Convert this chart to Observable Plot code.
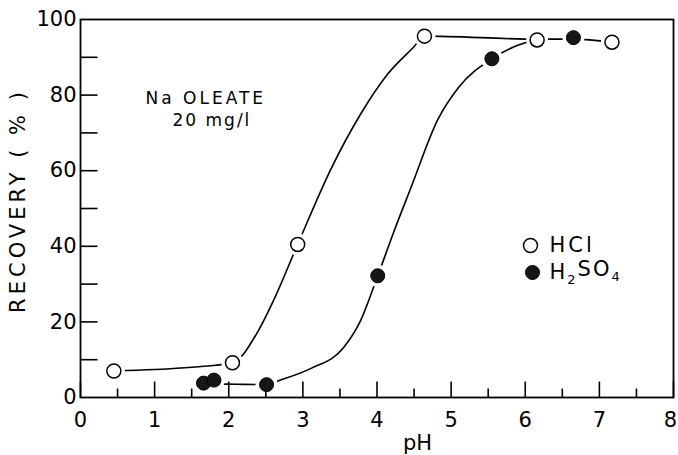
<!DOCTYPE html>
<html><head><meta charset="utf-8">
<script src="https://cdn.jsdelivr.net/npm/d3@7"></script>
<script src="https://cdn.jsdelivr.net/npm/@observablehq/plot@0.6"></script>
<style>body{margin:0;background:#fff} svg{display:block}</style>
</head><body><div id="chart"></div>
<script>
// measured points
const hclPH  = [0.45, 2.05, 2.93, 4.64, 6.16, 7.17];
const hclRec = [7.0, 9.2, 40.5, 95.6, 94.6, 94.0];
const h2so4PH  = [1.66, 1.80, 2.51, 4.01, 5.55, 6.65];
const h2so4Rec = [3.8, 4.6, 3.4, 32.2, 89.6, 95.2];

// hand-drawn curves
const hclCurvePH  = [0.45, 1.0, 1.5, 2.05, 2.4, 2.6, 2.93, 3.38, 3.78, 4.15, 4.49, 4.64, 6.16, 6.65, 7.17];
const hclCurveRec = [7.0, 7.4, 8.0, 9.2, 17.7, 25.5, 40.5, 60.5, 75.0, 85.7, 92.6, 95.6, 94.8, 94.8, 94.0];
const h2so4CurvePH  = [1.80, 2.1, 2.51, 2.68, 3.11, 3.55, 3.78, 4.01, 4.23, 4.46, 4.82, 5.1, 5.55, 5.85, 6.16];
const h2so4CurveRec = [3.6, 3.5, 3.4, 4.5, 7.7, 13.2, 20.4, 32.2, 44.0, 55.6, 73.5, 82.0, 89.6, 92.8, 94.8];

// ticks
const xMajor = [0, 1, 2, 3, 4, 5, 6, 7, 8];
const xMinor = [0.5, 1.5, 2.5, 3.5, 4.5, 5.5, 6.5, 7.5];
const yTickMarks = [10, 20, 30, 40, 50, 60, 70, 80, 90];
const yLabels = [0, 20, 40, 60, 80, 100];

const seriesNames = ["HCl", "H2SO4"];
const xTitle = "pH";
const yTitle = "RECOVERY ( % )";
const note1 = "Na OLEATE";
const note2 = "20 mg/l";

const zip = (xs, ys) => xs.map((x, i) => ({x, y: ys[i]}));
const hcl = zip(hclPH, hclRec);
const h2so4 = zip(h2so4PH, h2so4Rec);
const hclCurve = zip(hclCurvePH, hclCurveRec);
const h2so4Curve = zip(h2so4CurvePH, h2so4CurveRec);

const W = 678, H = 455, mL = 80, mR = 5, mT = 19, mB = 58;
const plotW = W - mL - mR, plotH = H - mT - mB;
const xDom = [0, 8], yDom = [0, 100];
// inward tick lengths (px) expressed in data units
const majLen = 16 / plotH * (yDom[1] - yDom[0]);
const minLen = 9 / plotH * (yDom[1] - yDom[0]);
const yLen = 17 / plotW * (xDom[1] - xDom[0]);
const xTickSegs = [
  ...xMajor.flatMap((v, i) => [{x: v, y: yDom[0], k: "M" + i}, {x: v, y: yDom[0] + majLen, k: "M" + i}]),
  ...xMinor.flatMap((v, i) => [{x: v, y: yDom[0], k: "m" + i}, {x: v, y: yDom[0] + minLen, k: "m" + i}])
];
const yTickSegs = yTickMarks.flatMap((v, i) => [{x: xDom[0], y: v, k: "y" + i}, {x: xDom[0] + yLen, y: v, k: "y" + i}]);

const F = "DejaVu Sans";

const chart = Plot.plot({
  width: W, height: H,
  marginLeft: mL, marginRight: mR, marginTop: mT, marginBottom: mB,
  x: {domain: xDom, label: null},
  y: {domain: yDom, label: null},
  style: {fontFamily: F, background: "white", color: "black"},
  marks: [
    Plot.line(hclCurve, {x: "x", y: "y", curve: "monotone-x", stroke: "black", strokeWidth: 1.6}),
    Plot.line(h2so4Curve, {x: "x", y: "y", curve: "monotone-x", stroke: "black", strokeWidth: 1.6}),
    Plot.dot([...hcl, ...h2so4], {x: "x", y: "y", r: 11, fill: "white", stroke: "none"}),
    Plot.line(xTickSegs, {x: "x", y: "y", z: "k", stroke: "black", strokeWidth: 1.6, strokeLinecap: "butt"}),
    Plot.line(yTickSegs, {x: "x", y: "y", z: "k", stroke: "black", strokeWidth: 1.6, strokeLinecap: "butt"}),
    Plot.frame({stroke: "black", strokeWidth: 1.8}),
    Plot.axisX(xMajor, {tickSize: 0, tickPadding: 15, fontSize: 21, label: null}),
    Plot.axisY(yLabels, {tickSize: 0, tickPadding: 4, fontSize: 21, label: null}),
    Plot.dot(hcl, {x: "x", y: "y", r: 7, fill: "white", stroke: "black", strokeWidth: 1.5}),
    Plot.dot(h2so4, {x: "x", y: "y", r: 7, fill: "#161616", stroke: "black", strokeWidth: 1}),
    // legend
    Plot.dot([seriesNames[0]], {frameAnchor: "top-left", dx: 450, dy: 226, r: 7, fill: "white", stroke: "black", strokeWidth: 1.5}),
    Plot.dot([seriesNames[1]], {frameAnchor: "top-left", dx: 452, dy: 253, r: 7, fill: "#161616", stroke: "black", strokeWidth: 1}),
    Plot.text([seriesNames[0]], {text: d => d, frameAnchor: "top-left", dx: 469, dy: 226, textAnchor: "start", lineAnchor: "middle", fontSize: 21}),
    Plot.text([seriesNames[1]], {text: d => d, frameAnchor: "top-left", dx: 469, dy: 253, textAnchor: "start", lineAnchor: "middle", fontSize: 21}),
    // annotation
    Plot.text([note1], {text: d => d, frameAnchor: "top-left", dx: 65, dy: 79, textAnchor: "start", lineAnchor: "middle", fontSize: 17}),
    Plot.text([note2], {text: d => d, frameAnchor: "top-left", dx: 92, dy: 101, textAnchor: "start", lineAnchor: "middle", fontSize: 17}),
    // axis titles
    Plot.text([yTitle], {text: d => d, frameAnchor: "top-left", dx: -62, dy: 181, rotate: -90, textAnchor: "middle", lineAnchor: "middle", fontSize: 21}),
    Plot.text([xTitle], {text: d => d, frameAnchor: "top-left", dx: 337, dy: 424, textAnchor: "middle", lineAnchor: "middle", fontSize: 21})
  ]
});
document.getElementById("chart").appendChild(chart);

const svg = d3.select(chart);
const spacing = {"Na OLEATE": 3, "20 mg/l": 2, "RECOVERY ( % )": 4, "HCl": 3, "H2SO4": 2};
svg.selectAll("text").each(function() {
  const t = this.textContent;
  if (t in spacing) d3.select(this).style("letter-spacing", spacing[t] + "px");
  if (t === "8") d3.select(this).attr("dx", -3);
  if (t === "H2SO4") {
    const s = d3.select(this);
    s.text(null);
    s.append("tspan").text("H");
    s.append("tspan").attr("font-size", "0.62em").attr("dy", "0.35em").text("2");
    s.append("tspan").attr("dy", "-0.35em").text("SO");
    s.append("tspan").attr("font-size", "0.62em").attr("dy", "0.35em").text("4");
  }
});
</script>
</body></html>
